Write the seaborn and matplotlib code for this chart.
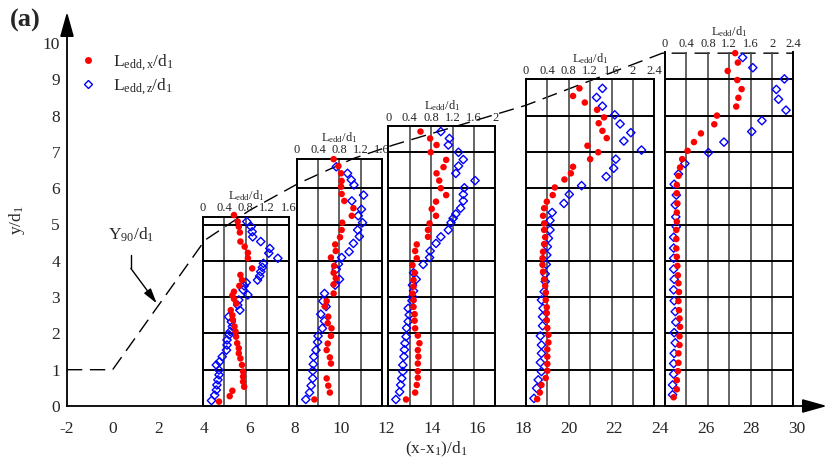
import numpy as np
import pandas as pd
import matplotlib
matplotlib.use("Agg")
import matplotlib.pyplot as plt
import seaborn as sns
from matplotlib.lines import Line2D
from matplotlib.patches import ArrowStyle

# ---------------- data ----------------
# Profile 1
p1_y_x = [5.26, 5.08, 4.94, 4.78, 4.53, 4.39, 4.22, 4.07, 3.79, 3.61, 3.47, 3.31, 3.15, 3.05,
          2.95, 2.82, 2.64, 2.50, 2.37, 2.19, 2.05, 1.91, 1.73, 1.59, 1.45, 1.31, 1.13, 0.95,
          0.81, 0.67, 0.53, 0.42, 0.27, 0.12]
p1_Lx = [0.58, 0.65, 0.67, 0.69, 0.70, 0.78, 0.84, 0.84, 0.92, 0.70, 0.73, 0.68, 0.58, 0.55,
         0.58, 0.62, 0.52, 0.55, 0.56, 0.59, 0.61, 0.62, 0.64, 0.67, 0.67, 0.70, 0.73, 0.75,
         0.75, 0.75, 0.77, 0.55, 0.50, 0.30]
p1_y_z = [5.08, 4.94, 4.80, 4.66, 4.53, 4.34, 4.21, 4.07, 3.93, 3.82, 3.70, 3.58, 3.47, 3.40,
          3.31, 3.20, 3.06, 2.92, 2.78, 2.64, 2.46, 2.32, 2.19, 2.05, 1.96, 1.82, 1.68, 1.54,
          1.36, 1.22, 1.13, 0.99, 0.86, 0.72, 0.58, 0.44, 0.30, 0.15]
p1_Lz = [0.82, 0.90, 0.92, 0.93, 1.08, 1.25, 1.23, 1.40, 1.13, 1.11, 1.08, 1.06, 1.02, 0.81,
         0.77, 0.75, 0.84, 0.67, 0.65, 0.69, 0.48, 0.53, 0.55, 0.51, 0.49, 0.45, 0.45, 0.44,
         0.36, 0.31, 0.25, 0.30, 0.30, 0.28, 0.26, 0.25, 0.22, 0.16]

# Profile 2
p2_y_x = [6.80, 6.61, 6.41, 6.20, 6.04, 5.84, 5.65, 5.45, 5.24, 5.05, 4.85, 4.65, 4.45, 4.27,
          4.09, 3.86, 3.67, 3.52, 3.35, 3.10, 2.89, 2.74, 2.46, 2.28, 2.14, 1.93, 1.72, 1.54,
          1.34, 1.17, 0.76, 0.56, 0.37, 0.18]
p2_Lx = [0.69, 0.78, 0.83, 0.84, 0.83, 0.84, 0.89, 1.06, 1.03, 0.85, 0.84, 0.81, 0.72, 0.73,
         0.64, 0.70, 0.69, 0.73, 0.69, 0.69, 0.56, 0.53, 0.59, 0.58, 0.65, 0.64, 0.58, 0.56,
         0.62, 0.64, 0.56, 0.59, 0.62, 0.33]
p2_y_z = [6.59, 6.41, 6.23, 6.09, 5.81, 5.65, 5.42, 5.24, 5.05, 4.85, 4.67, 4.48, 4.25, 4.09,
          3.91, 3.77, 3.49, 3.33, 3.10, 2.89, 2.74, 2.53, 2.34, 2.14, 1.93, 1.76, 1.54, 1.36,
          1.15, 0.97, 0.76, 0.56, 0.37, 0.18]
p2_Lz = [0.74, 0.95, 1.02, 1.07, 1.25, 1.03, 1.21, 1.15, 1.23, 1.14, 1.17, 1.06, 0.98, 0.84,
         0.78, 0.74, 0.80, 0.72, 0.52, 0.49, 0.55, 0.45, 0.52, 0.48, 0.40, 0.39, 0.36, 0.32,
         0.31, 0.30, 0.30, 0.27, 0.24, 0.17]

# Profile 3
p3_y_x = [7.56, 7.37, 7.19, 6.99, 6.78, 6.58, 6.41, 6.21, 6.00, 5.81, 5.63, 5.43, 5.24, 5.03,
          4.85, 4.66, 4.45, 4.27, 4.07, 3.88, 3.67, 3.47, 3.29, 3.10, 2.92, 2.73, 2.53, 2.35,
          2.14, 1.94, 1.73, 1.54, 1.36, 1.17, 0.96, 0.78, 0.58, 0.37, 0.18]
p3_Lx = [0.60, 0.78, 0.90, 0.79, 1.08, 1.03, 0.90, 0.95, 0.98, 1.08, 0.89, 0.81, 0.89, 0.77,
         0.74, 0.74, 0.53, 0.50, 0.53, 0.45, 0.49, 0.47, 0.47, 0.45, 0.47, 0.47, 0.49, 0.49,
         0.50, 0.55, 0.58, 0.55, 0.56, 0.55, 0.55, 0.55, 0.53, 0.50, 0.33]
p3_y_z = [7.56, 7.37, 7.19, 6.99, 6.79, 6.61, 6.41, 6.21, 6.01, 5.83, 5.65, 5.45, 5.29, 5.17,
          5.05, 4.85, 4.66, 4.48, 4.27, 4.09, 3.90, 3.67, 3.49, 3.33, 3.17, 3.01, 2.90, 2.69,
          2.51, 2.33, 2.15, 1.91, 1.73, 1.55, 1.36, 1.13, 0.95, 0.76, 0.58, 0.39, 0.18]
p3_Lz = [0.98, 1.14, 1.12, 1.31, 1.40, 1.31, 1.26, 1.62, 1.42, 1.40, 1.40, 1.35, 1.26, 1.21,
         1.17, 1.12, 0.98, 0.89, 0.78, 0.77, 0.65, 0.47, 0.52, 0.45, 0.47, 0.45, 0.44, 0.37,
         0.39, 0.37, 0.34, 0.33, 0.31, 0.30, 0.29, 0.27, 0.27, 0.25, 0.23, 0.21, 0.14]

# Profile 4
p4_y_x = [8.75, 8.54, 8.36, 8.16, 7.95, 7.79, 7.58, 7.38, 7.17, 6.99, 6.80, 6.59, 6.41, 6.24,
          6.02, 5.81, 5.63, 5.45, 5.24, 5.03, 4.85, 4.65, 4.46, 4.25, 4.07, 3.89, 3.70, 3.49,
          3.31, 3.12, 2.92, 2.72, 2.56, 2.36, 2.15, 1.96, 1.75, 1.56, 1.36, 1.16, 0.97, 0.77,
          0.58, 0.37, 0.19]
p4_Lx = [1.00, 0.88, 1.10, 1.33, 1.46, 1.36, 1.43, 1.51, 1.15, 1.35, 1.20, 0.88, 0.84, 0.72,
         0.54, 0.50, 0.39, 0.34, 0.32, 0.34, 0.34, 0.36, 0.34, 0.32, 0.31, 0.31, 0.32, 0.34,
         0.36, 0.37, 0.37, 0.39, 0.39, 0.39, 0.40, 0.42, 0.42, 0.40, 0.40, 0.40, 0.40, 0.37,
         0.29, 0.26, 0.21]
p4_y_z = [8.75, 8.50, 8.26, 8.02, 7.77, 7.53, 7.30, 7.05, 6.80, 6.55, 6.32, 6.07, 5.83, 5.58,
          5.33, 5.11, 4.85, 4.62, 4.39, 4.16, 3.90, 3.64, 3.43, 3.15, 2.92, 2.69, 2.46, 2.21,
          1.93, 1.68, 1.45, 1.20, 0.95, 0.72, 0.49, 0.21]
p4_Lz = [1.43, 1.32, 1.43, 1.66, 1.76, 1.96, 1.83, 2.16, 1.68, 1.64, 1.50, 1.04, 0.81, 0.71,
         0.49, 0.45, 0.45, 0.42, 0.40, 0.39, 0.38, 0.36, 0.36, 0.34, 0.29, 0.32, 0.31, 0.31,
         0.27, 0.29, 0.29, 0.27, 0.29, 0.23, 0.20, 0.15]

# Profile 5
p5_y_x = [9.72, 9.46, 9.23, 8.98, 8.73, 8.49, 8.25, 8.00, 7.76, 7.51, 7.27, 7.03, 6.80, 6.57,
          6.34, 6.09, 5.86, 5.58, 5.33, 5.08, 4.85, 4.60, 4.34, 4.11, 3.86, 3.60, 3.38, 3.14,
          2.89, 2.64, 2.41, 2.18, 1.92, 1.68, 1.45, 1.19, 0.96, 0.71, 0.46, 0.24]
p5_Lx = [1.31, 1.36, 1.17, 1.35, 1.43, 1.37, 1.33, 0.97, 0.92, 0.67, 0.54, 0.42, 0.32, 0.28,
         0.25, 0.22, 0.22, 0.23, 0.22, 0.22, 0.21, 0.21, 0.21, 0.22, 0.23, 0.24, 0.25, 0.26,
         0.25, 0.26, 0.27, 0.28, 0.27, 0.27, 0.25, 0.25, 0.24, 0.22, 0.22, 0.16]
p5_y_z = [9.60, 9.32, 9.01, 8.72, 8.45, 8.15, 7.86, 7.56, 7.27, 6.98, 6.68, 6.39, 6.11, 5.81,
          5.54, 5.21, 4.94, 4.65, 4.35, 4.07, 3.77, 3.49, 3.20, 2.90, 2.60, 2.31, 2.02, 1.74,
          1.45, 1.17, 0.88, 0.58, 0.31]
p5_Lz = [1.45, 1.64, 2.23, 2.08, 2.12, 2.26, 1.81, 1.62, 1.10, 0.81, 0.37, 0.25, 0.17, 0.21,
         0.19, 0.20, 0.21, 0.16, 0.16, 0.16, 0.16, 0.17, 0.16, 0.17, 0.19, 0.20, 0.17, 0.19,
         0.17, 0.16, 0.16, 0.14, 0.14]

# Position (x/d1 of left edge), height (y/d1 of top) and L range of each profile panel
panel_x0 = [3.96, 8.07, 12.09, 18.12, 24.22]
panel_top = [5.2, 6.8, 7.7, 9.0, 9.74]
panel_Lmax = [1.6, 1.6, 2.0, 2.4, 2.4]

# Y90/d1 envelope
y90_x = [-2.0, 0.0, 4.05, 6.03, 8.14, 10.56, 12.31, 18.10, 24.10, 29.85]
y90_y = [1.0, 1.0, 4.57, 5.40, 6.13, 6.82, 7.19, 8.28, 9.72, 9.72]

x_ticks = list(range(-2, 31, 2))
y_ticks = list(range(0, 11))

profiles = [
    (p1_y_x, p1_Lx, p1_y_z, p1_Lz),
    (p2_y_x, p2_Lx, p2_y_z, p2_Lz),
    (p3_y_x, p3_Lx, p3_y_z, p3_Lz),
    (p4_y_x, p4_Lx, p4_y_z, p4_Lz),
    (p5_y_x, p5_Lx, p5_y_z, p5_Lz),
]

# ---------------- style ----------------
sns.set_style("white")
plt.rcParams["font.family"] = ["Liberation Serif", "DejaVu Serif"]
plt.rcParams["mathtext.fontset"] = "custom"
plt.rcParams["mathtext.rm"] = "Liberation Serif"
plt.rcParams["mathtext.it"] = "Liberation Serif:italic"
plt.rcParams["mathtext.bf"] = "Liberation Serif:bold"
plt.rcParams["axes.unicode_minus"] = False

W, H = 826, 462
fig = plt.figure(figsize=(W / 100, H / 100), dpi=100)

# main axes: x/d1 from -2, y/d1 from 0
px_per_x = 22.81
px_per_y = 36.3
ax_left, ax_bottom = 67, H - 406
xmax, ymax = 30.4, 10.25
ax_w_px = (xmax + 2) * px_per_x
ax = fig.add_axes([ax_left / W, ax_bottom / H, ax_w_px / W, ymax * px_per_y / H])
ax.set_xlim(-2, xmax)
ax.set_ylim(0, ymax)
ax.set_facecolor("none")
for s in ("top", "right"):
    ax.spines[s].set_visible(False)
for s in ("left", "bottom"):
    ax.spines[s].set_color("black")
    ax.spines[s].set_linewidth(1.3)

ax.set_xticks(x_ticks)
ax.set_xticklabels([str(t) for t in x_ticks])
ax.set_yticks(y_ticks)
ax.set_yticklabels([str(t) for t in y_ticks])
ax.tick_params(axis="x", direction="in", length=5, width=1, color="#555555",
               labelsize=12.5, pad=11)
ax.tick_params(axis="y", direction="in", length=5, width=1, color="black",
               labelsize=12.5, pad=5)
ax.set_xlabel("(x-x$_1$)/d$_1$", fontsize=12.5, labelpad=2)
ax.set_ylabel("y/d$_1$", fontsize=12.5)
ax.yaxis.set_label_coords(-(ax_left - 27) / ax_w_px, 0.5)

# axis arrows
head = ArrowStyle("-|>", head_length=1.5, head_width=0.42)
ax.annotate("", xy=(1.0 + 21 / ax_w_px, 0), xytext=(0.995, 0), xycoords="axes fraction",
            arrowprops=dict(arrowstyle=head, color="black", lw=1.3, mutation_scale=10,
                            shrinkA=0, shrinkB=0), annotation_clip=False)
ax.annotate("", xy=(0, 1.0 + 22 / 372.0), xytext=(0, 0.995), xycoords="axes fraction",
            arrowprops=dict(arrowstyle=head, color="black", lw=1.3, mutation_scale=10,
                            shrinkA=0, shrinkB=0), annotation_clip=False)

# Y90/d1 envelope
ax.plot(y90_x, y90_y, color="black", lw=1.0, dashes=(11, 5.5), zorder=2)
ax.text(0.8, 4.71, "Y$_{90}$/d$_1$", fontsize=12.5, ha="center", va="center")
ax.plot([0.8, 0.8], [4.16, 3.79], color="black", lw=1.0)
ax.annotate("", xy=(1.93, 2.83), xytext=(0.8, 3.79),
            arrowprops=dict(arrowstyle=ArrowStyle("-|>", head_length=0.9, head_width=0.25),
                            color="black", lw=1.0, mutation_scale=10,
                            shrinkA=0, shrinkB=0))

# profile panels
L_per_x = 53.5 / px_per_x
for i, (yx, lx, yz, lz) in enumerate(profiles):
    Lmax = panel_Lmax[i]
    top = panel_top[i]
    iax = ax.inset_axes([panel_x0[i], 0, Lmax * L_per_x, top], transform=ax.transData)
    iax.set_facecolor("none")
    iax.set_xlim(0, Lmax)
    iax.set_ylim(0, top)
    xt = np.round(np.arange(0, Lmax + 1e-6, 0.4), 1)
    iax.set_xticks(xt)
    iax.set_xticklabels(["0" if t == 0 else ("%g" % t) for t in xt])
    iax.xaxis.tick_top()
    iax.xaxis.set_label_position("top")
    iax.tick_params(axis="x", length=0, labelsize=9, pad=2)
    iax.set_yticks(list(range(1, int(np.floor(top)) + 1)))
    iax.tick_params(axis="y", length=0, labelleft=False)
    iax.grid(axis="x", color="#4a4a4a", lw=1.2)
    iax.grid(axis="y", color="black", lw=1.4)
    for s in iax.spines.values():
        s.set_color("black")
        s.set_linewidth(1.4)
    if i == 4:
        iax.spines["top"].set_visible(False)

    dfx = pd.DataFrame({"L": lx, "y": yx})
    dfz = pd.DataFrame({"L": lz, "y": yz})
    sns.scatterplot(data=dfz, x="L", y="y", ax=iax, marker="D", s=18,
                    facecolor="none", edgecolor="#0000ff", linewidth=1.0,
                    clip_on=False, zorder=3)
    sns.scatterplot(data=dfx, x="L", y="y", ax=iax, marker="o", s=22,
                    color="#ff0000", edgecolor="none", linewidth=0,
                    clip_on=False, zorder=4)
    iax.set_xlabel(r"L$_{\mathrm{edd}}$/d$_1$", fontsize=9, labelpad=2)
    iax.set_ylabel("")

# legend
handles = [
    Line2D([], [], ls="none", marker="o", ms=5, color="#ff0000", mec="none"),
    Line2D([], [], ls="none", marker="D", ms=4.3, mfc="none", mec="#0000ff", mew=1.0),
]
labels = [r"L$_{\mathrm{edd,x}}$/d$_1$", r"L$_{\mathrm{edd,z}}$/d$_1$"]
fig.legend(handles, labels, loc="upper left", bbox_to_anchor=(79.7 / W, 1 - 52 / H),
           frameon=False, fontsize=12.5, handlelength=1.0, handletextpad=0.9,
           labelspacing=0.2, borderpad=0, borderaxespad=0)

fig.text(25 / W, 1 - 20 / H, "(a)", fontsize=19, fontweight="bold",
         ha="center", va="center")

fig.savefig("out.png", dpi=100)
